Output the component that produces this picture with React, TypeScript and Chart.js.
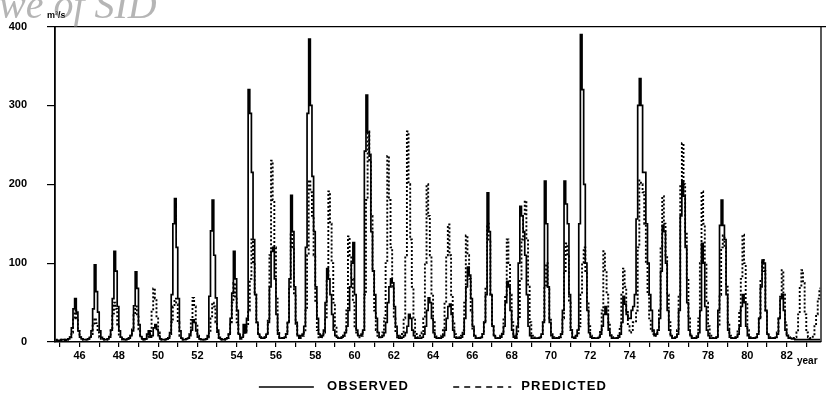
import React, { useEffect, useRef } from 'react';
import { Chart, registerables } from 'chart.js';

Chart.register(...registerables);

// ---- axis definitions ----
const startYear = 44.75; // first month on the time axis (water year start)
const endYear = 83.75;
const labelYears = [46, 48, 50, 52, 54, 56, 58, 60, 62, 64, 66, 68, 70, 72, 74, 76, 78, 80, 82];
const tickYears = [45, 46, 47, 48, 49, 50, 51, 52, 53, 54, 55, 56, 57, 58, 59, 60, 61, 62, 63, 64,
  65, 66, 67, 68, 69, 70, 71, 72, 73, 74, 75, 76, 77, 78, 79, 80, 81, 82, 83];
const yTicks = [0, 100, 200, 300, 400];
const legendLabels = ['OBSERVED', 'PREDICTED'];

const observed = [
  2, 2, 2, 2, 3, 3,
  2, 3, 4, 6, 18, 42, 55, 38, 14, 6, 4, 3,
  3, 3, 4, 6, 14, 42, 98, 64, 38, 14, 6, 4,
  3, 3, 4, 6, 15, 55, 115, 90, 45, 14, 6, 4,
  3, 3, 4, 5, 8, 14, 46, 89, 68, 22, 7, 4,
  3, 4, 10, 14, 6, 8, 18, 22, 16, 8, 4, 3,
  3, 3, 4, 5, 12, 60, 150, 182, 120, 55, 14, 5,
  3, 3, 4, 5, 8, 15, 28, 25, 14, 6, 4, 3,
  3, 3, 4, 8, 58, 141, 180, 110, 56, 15, 6, 4,
  3, 3, 4, 5, 10, 30, 62, 115, 80, 40, 10, 4,
  6, 22, 12, 30, 320, 290, 215, 130, 60, 25, 10, 6,
  5, 5, 6, 10, 25, 70, 115, 120, 80, 35, 10, 5,
  5, 5, 6, 10, 25, 80, 186, 140, 70, 25, 8, 5,
  8, 10, 20, 120, 290, 384, 300, 210, 140, 70, 30, 10,
  6, 8, 15, 50, 93, 80, 60, 35, 15, 8, 6, 5,
  5, 6, 8, 12, 20, 40, 70, 100, 126, 60, 15, 8,
  8, 10, 15, 242, 313, 266, 238, 140, 90, 60, 30, 12,
  6, 6, 8, 12, 25, 50, 70, 80, 75, 45, 20, 8,
  5, 5, 6, 8, 12, 20, 35, 30, 15, 8, 5, 5,
  5, 5, 6, 10, 20, 40, 56, 50, 30, 12, 6, 5,
  5, 5, 6, 8, 15, 30, 45, 48, 35, 15, 6, 5,
  5, 5, 6, 10, 30, 70, 95, 85, 55, 20, 8, 5,
  5, 5, 6, 10, 25, 60, 189, 140, 60, 20, 8, 5,
  5, 5, 6, 10, 20, 50, 77, 70, 40, 15, 6, 5,
  20, 100, 172, 160, 140, 110, 60, 20, 8, 5, 5, 5,
  5, 5, 6, 10, 25, 204, 150, 70, 25, 8, 5, 5,
  5, 5, 6, 10, 40, 204, 175, 150, 60, 15, 6, 5,
  8, 15, 150, 390, 320, 200, 100, 40, 12, 6, 5, 5,
  5, 5, 6, 10, 20, 35, 45, 35, 15, 8, 5, 5,
  5, 5, 6, 10, 25, 58, 48, 35, 30, 30, 40, 45,
  60, 156, 300, 334, 300, 215, 215, 150, 100, 60, 40, 15,
  8, 10, 15, 30, 90, 148, 140, 100, 40, 15, 8, 5,
  5, 6, 10, 40, 160, 204, 185, 120, 50, 15, 8, 5,
  5, 5, 6, 12, 40, 125, 100, 45, 15, 8, 5, 5,
  5, 5, 6, 40, 148, 180, 148, 130, 60, 15, 6, 5,
  5, 5, 6, 10, 20, 45, 60, 50, 20, 8, 5, 5,
  5, 5, 6, 10, 30, 70, 104, 100, 40, 10, 5, 5,
  5, 5, 6, 10, 30, 55, 60, 40, 15, 8, 5, 5,
  4, 4, 3, 3, 3, 3, 3, 3, 3, 3, 3, 3,
  3, 3, 3, 3, 3, 3,
];

// ---- monthly predicted values ----
const predicted = [
  3, 3, 3, 3, 3, 3,
  3, 3, 4, 6, 12, 30, 40, 30, 14, 6, 4, 3,
  3, 3, 4, 6, 10, 22, 30, 24, 12, 6, 4, 3,
  3, 3, 4, 8, 16, 36, 50, 42, 22, 8, 5, 3,
  3, 3, 4, 5, 8, 16, 34, 45, 35, 16, 6, 4,
  3, 4, 6, 8, 14, 40, 68, 55, 30, 12, 5, 3,
  3, 3, 4, 5, 10, 25, 45, 55, 48, 25, 8, 4,
  3, 3, 4, 5, 10, 28, 56, 45, 22, 8, 4, 3,
  3, 3, 4, 6, 12, 30, 50, 45, 25, 10, 5, 3,
  3, 3, 4, 5, 10, 25, 50, 75, 55, 25, 10, 8,
  8, 10, 12, 20, 40, 80, 130, 100, 60, 25, 10, 6,
  5, 5, 6, 10, 30, 110, 230, 180, 120, 55, 15, 6,
  5, 5, 6, 10, 25, 70, 140, 120, 60, 20, 8, 5,
  6, 8, 12, 40, 110, 205, 190, 160, 110, 50, 15, 6,
  6, 8, 12, 30, 80, 191, 150, 100, 50, 20, 8, 5,
  5, 6, 8, 15, 40, 134, 110, 80, 50, 20, 10, 6,
  6, 8, 15, 60, 180, 267, 230, 160, 90, 40, 15, 8,
  6, 8, 12, 30, 100, 236, 180, 120, 70, 30, 12, 6,
  6, 8, 12, 30, 110, 267, 200, 130, 70, 30, 12, 6,
  6, 8, 12, 30, 100, 200, 160, 110, 60, 25, 10, 6,
  5, 6, 8, 15, 50, 110, 149, 110, 60, 25, 10, 6,
  5, 6, 8, 15, 50, 135, 110, 80, 40, 15, 8, 5,
  5, 5, 6, 10, 25, 70, 150, 130, 60, 20, 8, 5,
  5, 6, 8, 12, 30, 60, 130, 100, 60, 25, 8, 5,
  10, 30, 80, 130, 160, 179, 130, 70, 25, 10, 6, 5,
  5, 5, 6, 10, 25, 70, 100, 70, 30, 10, 6, 5,
  5, 5, 6, 10, 30, 90, 125, 110, 50, 15, 6, 5,
  6, 8, 20, 60, 100, 120, 90, 50, 20, 8, 5, 5,
  5, 5, 8, 15, 40, 115, 90, 60, 25, 10, 6, 5,
  5, 5, 8, 20, 60, 93, 70, 40, 20, 12, 15, 25,
  25, 40, 120, 205, 200, 190, 150, 100, 60, 30, 15, 10,
  8, 10, 15, 40, 120, 185, 150, 110, 60, 25, 10, 6,
  6, 8, 15, 60, 200, 252, 200, 140, 80, 30, 10, 6,
  5, 6, 10, 30, 100, 191, 150, 100, 50, 20, 8, 5,
  5, 5, 8, 20, 60, 120, 135, 120, 70, 25, 8, 5,
  5, 6, 8, 15, 40, 80, 136, 100, 50, 15, 6, 5,
  5, 5, 6, 10, 30, 80, 104, 90, 40, 12, 6, 5,
  5, 5, 6, 12, 30, 60, 91, 60, 25, 10, 6, 5,
  5, 5, 6, 12, 35, 70, 91, 75, 35, 12, 6, 5,
  5, 8, 20, 35, 55, 68,
];

const toPoints = (arr: number[]) => arr.map((v, i) => ({ x: startYear + (i + 0.5) / 12, y: v }));

const decorPlugin = {
  id: 'decor',
  afterDraw(chart: any) {
    const { ctx, chartArea } = chart;
    ctx.save();
    // frame: top and right borders
    ctx.strokeStyle = '#000';
    ctx.lineWidth = 1.3;
    ctx.beginPath();
    ctx.moveTo(chartArea.left, chartArea.top);
    ctx.lineTo(chart.width, chartArea.top);
    ctx.moveTo(chartArea.right, chartArea.top);
    ctx.lineTo(chartArea.right, chartArea.bottom);
    ctx.stroke();

    // unit label at top of the y axis
    ctx.fillStyle = '#000';
    ctx.font = 'bold 9px "Liberation Sans", Arial, sans-serif';
    ctx.textAlign = 'left';
    ctx.textBaseline = 'middle';
    ctx.fillText('m³/s', chartArea.left - 8, chartArea.top - 11);

    // axis name after last label
    ctx.font = 'bold 10px "Liberation Sans", Arial, sans-serif';
    ctx.fillText('year', chartArea.right - 24, chartArea.bottom + 19);

    // legend
    const ds = chart.data.datasets;
    const lineLens = [55, 58];
    const dashes = [[], [6, 5]];
    const gapText = [13, 10];
    const itemGap = 44;
    ctx.font = 'bold 13px "Liberation Sans", Arial, sans-serif';
    (ctx as any).letterSpacing = '1.2px';
    const widths = legendLabels.map((t, i) => lineLens[i] + gapText[i] + ctx.measureText(t).width);
    const total = widths[0] + widths[1] + itemGap;
    let x = chart.width / 2 + 20 - total / 2;
    const y = chart.height - 11;
    legendLabels.forEach((t, i) => {
      ctx.strokeStyle = ds[i].borderColor;
      ctx.lineWidth = 1.6;
      ctx.setLineDash(dashes[i]);
      ctx.beginPath();
      ctx.moveTo(x, y);
      ctx.lineTo(x + lineLens[i], y);
      ctx.stroke();
      ctx.setLineDash([]);
      ctx.fillStyle = '#000';
      ctx.textBaseline = 'middle';
      ctx.fillText(t, x + lineLens[i] + gapText[i], y - 1);
      x += widths[i] + itemGap;
    });
    (ctx as any).letterSpacing = '0px';

    // scan watermark
    ctx.font = 'italic 40px "Liberation Serif", "Times New Roman", serif';
    ctx.fillStyle = 'rgba(120,120,120,0.55)';
    ctx.textAlign = 'left';
    ctx.textBaseline = 'alphabetic';
    ctx.fillText('we of SID', -1, 18);
    ctx.restore();
  },
};

export default function App() {
  const canvasRef = useRef<HTMLCanvasElement | null>(null);

  useEffect(() => {
    if (!canvasRef.current) return;
    const chart = new Chart(canvasRef.current, {
      type: 'line',
      data: {
        datasets: [
          {
            label: legendLabels[0],
            data: toPoints(observed),
            borderColor: '#000',
            borderWidth: 1.7,
            pointRadius: 0,
            stepped: 'middle',
            fill: false,
          },
          {
            label: legendLabels[1],
            data: toPoints(predicted),
            borderColor: '#000',
            borderWidth: 1.9,
            borderDash: [2, 2],
            pointRadius: 0,
            stepped: 'middle',
            fill: false,
          },
        ],
      },
      options: {
        animation: false,
        responsive: false,
        devicePixelRatio: 1,
        layout: { padding: { top: 20, right: 5, bottom: 0, left: 0 } },
        plugins: { legend: { display: false }, tooltip: { enabled: false } },
        scales: {
          x: {
            type: 'linear',
            min: startYear,
            max: endYear,
            afterBuildTicks: (s: any) => {
              s.ticks = tickYears.map((v) => ({ value: v }));
            },
            afterFit: (s: any) => {
              s.height = 56;
            },
            ticks: {
              autoSkip: false,
              maxRotation: 0,
              padding: 2,
              color: '#000',
              font: { family: '"Liberation Sans", Arial, sans-serif', size: 11, weight: 'bold' },
              callback: (v: any) => (labelYears.includes(v) ? String(v) : ''),
            },
            grid: { drawOnChartArea: false, drawTicks: true, tickLength: 5, color: '#000', lineWidth: 1.2 },
            border: { color: '#000', width: 1.6 },
          },
          y: {
            type: 'linear',
            min: 0,
            max: 400,
            afterBuildTicks: (s: any) => {
              s.ticks = yTicks.map((v) => ({ value: v }));
            },
            afterFit: (s: any) => {
              s.width = 55;
            },
            ticks: {
              padding: 20,
              color: '#000',
              font: { family: '"Liberation Sans", Arial, sans-serif', size: 11, weight: 'bold' },
            },
            grid: { drawOnChartArea: false, drawTicks: true, tickLength: 8, color: '#000', lineWidth: 1.2 },
            border: { color: '#000', width: 1.8 },
          },
        },
      },
      plugins: [decorPlugin],
    } as any);
    return () => chart.destroy();
  }, []);

  return (
    <div style={{ position: 'fixed', left: 0, top: 0, width: 826, height: 398, background: '#fff' }}>
      <canvas ref={canvasRef} width={826} height={398} style={{ display: 'block' }} />
    </div>
  );
}
